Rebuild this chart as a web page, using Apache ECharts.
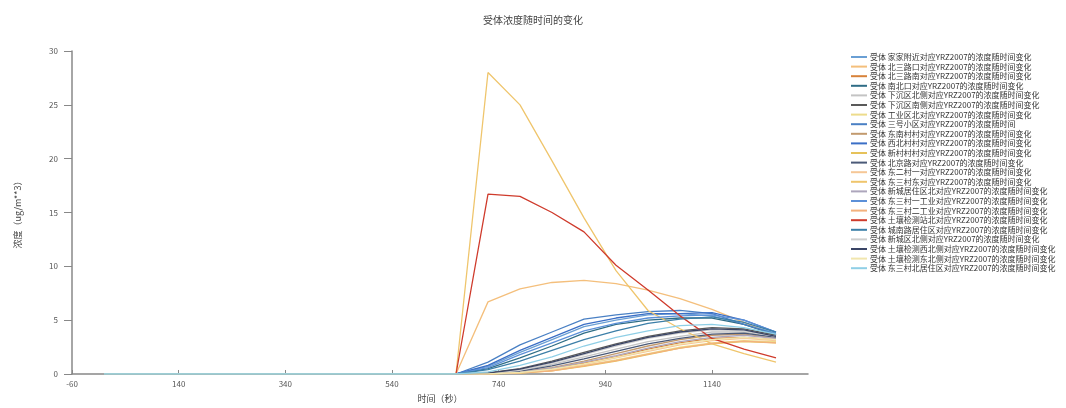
<!DOCTYPE html>
<html>
<head>
<meta charset="utf-8">
<script src="https://cdn.jsdelivr.net/npm/echarts@6/dist/echarts.min.js"></script>
<style>html,body{margin:0;padding:0;background:#fff}#c{width:1066px;height:408px}</style>
</head>
<body>
<div id="c"></div>
<script>
// time points (seconds)
var times = [0,60,120,180,240,300,360,420,480,540,600,660,720,780,840,900,960,1020,1080,1140,1200,1260];
var xTicks = [-60,140,340,540,740,940,1140];
var yTicks = [0,5,10,15,20,25,30];

var names = [
  "受体 家家附近对应YRZ2007的浓度随时间变化",
  "受体 北三路口对应YRZ2007的浓度随时间变化",
  "受体 北三路南对应YRZ2007的浓度随时间变化",
  "受体 南北口对应YRZ2007的浓度随时间变化",
  "受体 下沉区北侧对应YRZ2007的浓度随时间变化",
  "受体 下沉区南侧对应YRZ2007的浓度随时间变化",
  "受体 工业区北对应YRZ2007的浓度随时间变化",
  "受体 三号小区对应YRZ2007的浓度随时间",
  "受体 东南村村对应YRZ2007的浓度随时间变化",
  "受体 西北村村对应YRZ2007的浓度随时间变化",
  "受体 新村村村对应YRZ2007的浓度随时间变化",
  "受体 北京路对应YRZ2007的浓度随时间变化",
  "受体 东二村一对应YRZ2007的浓度随时间变化",
  "受体 东三村东对应YRZ2007的浓度随时间变化",
  "受体 新城居住区北对应YRZ2007的浓度随时间变化",
  "受体 东三村一工业对应YRZ2007的浓度随时间变化",
  "受体 东三村二工业对应YRZ2007的浓度随时间变化",
  "受体 土壤检测站北对应YRZ2007的浓度随时间变化",
  "受体 城南路居住区对应YRZ2007的浓度随时间变化",
  "受体 新城区北侧对应YRZ2007的浓度随时间变化",
  "受体 土壤检测西北侧对应YRZ2007的浓度随时间变化",
  "受体 土壤检测东北侧对应YRZ2007的浓度随时间变化",
  "受体 东三村北居住区对应YRZ2007的浓度随时间变化"
];

var colors = ["#6a9fd4","#f4bf7c","#d7823a","#2f6d86","#c4c4c4","#5a5a5a","#eddc8c","#4a80c4",
  "#c29a6e","#3b6fc6","#e6c25a","#4b5a78","#f6c796","#efc56c","#ada6bc","#5c90d8",
  "#f3b27e","#cf3b2c","#3c7fa8","#cfcfcf","#3a4566","#f1e6ae","#8fcfe6"];

// values at times above
var s01 = [0,0,0,0,0,0,0,0,0,0,0,0,0.7,2.0,3.2,4.4,5.0,5.5,5.6,5.4,4.6,3.8];
var s02 = [0,0,0,0,0,0,0,0,0,0,0,0,6.7,7.9,8.5,8.7,8.4,7.8,7.0,6.0,4.8,3.5];
var s03 = [0,0,0,0,0,0,0,0,0,0,0,0,0.02,0.15,0.5,1.0,1.6,2.3,2.9,3.3,3.4,3.2];
var s04 = [0,0,0,0,0,0,0,0,0,0,0,0,0.5,1.5,2.6,3.8,4.6,5.0,5.2,5.2,4.6,3.6];
var s05 = [0,0,0,0,0,0,0,0,0,0,0,0,0.05,0.3,0.9,1.6,2.3,3.0,3.5,3.9,3.9,3.4];
var s06 = [0,0,0,0,0,0,0,0,0,0,0,0,0.1,0.5,1.2,2.0,2.8,3.5,4.0,4.3,4.2,3.6];
var s07 = [0,0,0,0,0,0,0,0,0,0,0,0,0.01,0.1,0.35,0.8,1.3,1.9,2.5,2.9,3.1,3.0];
var s08 = [0,0,0,0,0,0,0,0,0,0,0,0,1.1,2.7,3.9,5.1,5.5,5.8,5.9,5.6,4.6,3.7];
var s09 = [0,0,0,0,0,0,0,0,0,0,0,0,0.03,0.2,0.6,1.2,1.9,2.6,3.2,3.6,3.7,3.3];
var s10 = [0,0,0,0,0,0,0,0,0,0,0,0,0.8,2.2,3.4,4.6,5.2,5.6,5.6,5.7,5.0,3.9];
var s11 = [0,0,0,0,0,0,0,0,0,0,0,0,0.01,0.08,0.3,0.7,1.2,1.8,2.4,2.8,3.0,2.9];
var s12 = [0,0,0,0,0,0,0,0,0,0,0,0,0.04,0.25,0.75,1.4,2.1,2.8,3.3,3.7,3.8,3.4];
var s13 = [0,0,0,0,0,0,0,0,0,0,0,0,0.02,0.12,0.4,0.9,1.5,2.1,2.7,3.1,3.3,3.1];
var s14 = [0,0,0,0,0,0,0,0,0,0,0,0,28.0,25.0,19.8,14.5,9.6,5.9,4.2,2.8,1.9,1.1];
var s15 = [0,0,0,0,0,0,0,0,0,0,0,0,0.03,0.18,0.55,1.1,1.7,2.4,3.0,3.4,3.6,3.3];
var s16 = [0,0,0,0,0,0,0,0,0,0,0,0,0.6,1.8,2.9,4.0,4.7,5.2,5.4,5.5,5.0,3.9];
var s17 = [0,0,0,0,0,0,0,0,0,0,0,0,0.01,0.1,0.3,0.75,1.25,1.85,2.4,2.85,3.05,2.9];
var s18 = [0,0,0,0,0,0,0,0,0,0,0,0,16.7,16.5,15.0,13.2,10.1,7.8,5.4,3.3,2.3,1.5];
var s19 = [0,0,0,0,0,0,0,0,0,0,0,0,0.4,1.2,2.2,3.2,4.0,4.7,5.1,5.3,4.8,3.9];
var s20 = [0,0,0,0,0,0,0,0,0,0,0,0,0.06,0.35,1.0,1.8,2.6,3.3,3.8,4.1,4.0,3.5];
var s21 = [0,0,0,0,0,0,0,0,0,0,0,0,0.08,0.45,1.1,1.9,2.7,3.4,3.9,4.2,4.1,3.5];
var s22 = [0,0,0,0,0,0,0,0,0,0,0,0,0.02,0.14,0.45,0.95,1.55,2.2,2.8,3.2,3.4,3.2];
var s23 = [0,0,0,0,0,0,0,0,0,0,0,0,0.2,0.8,1.6,2.6,3.4,4.0,4.5,4.6,4.3,3.7];

var values = [s01,s02,s03,s04,s05,s06,s07,s08,s09,s10,s11,s12,s13,s14,s15,s16,s17,s18,s19,s20,s21,s22,s23];

var FONT = "Noto Sans CJK SC";
var series = names.map(function(n, i){
  return {
    name: n, type: 'line', showSymbol: false, symbol: 'none',
    lineStyle: {width: 1.3, color: colors[i]},
    itemStyle: {color: colors[i]},
    data: times.map(function(t, k){ return [t, values[i][k]]; })
  };
});

var chart = echarts.init(document.getElementById('c'), null, {renderer: 'canvas'});
chart.setOption({
  animation: false,
  backgroundColor: '#fff',
  textStyle: {fontFamily: FONT},
  title: {
    text: '受体浓度随时间的变化', left: 'center', top: 10,
    textStyle: {fontSize: 10, fontWeight: 'normal', color: '#444', fontFamily: FONT}
  },
  legend: {
    orient: 'vertical', left: 846, top: 48, itemGap: 1.6,
    itemWidth: 16, itemHeight: 2, icon: 'rect',
    textStyle: {fontSize: 8, color: '#333', fontFamily: FONT, padding: [0,0,0,-2]},
    data: names.map(function(n){ return {name: n}; })
  },
  grid: {left: 72, right: 258, top: 51, bottom: 34, containLabel: false},
  xAxis: {
    type: 'value', min: -60, max: 1320,
    name: '时间（秒）', nameLocation: 'middle', nameGap: 20,
    nameTextStyle: {fontSize: 9, color: '#444', fontFamily: FONT},
    axisLine: {show: true, onZero: false, lineStyle: {color: '#888', width: 1.5}},
    axisTick: {show: true, inside: true, length: 4, customValues: xTicks, lineStyle: {color: '#888'}},
    axisLabel: {customValues: xTicks, fontSize: 8, color: '#555', margin: 6, showMinLabel: true, showMaxLabel: true,
      formatter: function(v){ return String(v); }},
    splitLine: {show: false}
  },
  yAxis: {
    type: 'value', min: 0, max: 30, interval: 5,
    name: '浓度（ug/m**3）', nameLocation: 'middle', nameGap: 50, nameRotate: 90,
    nameTextStyle: {fontSize: 9, color: '#444', fontFamily: FONT},
    axisLine: {show: true, onZero: false, lineStyle: {color: '#888', width: 1.5}},
    axisTick: {show: true, length: 8, lineStyle: {color: '#888'}},
    axisLabel: {fontSize: 8, color: '#555', margin: 14},
    splitLine: {show: false}
  },
  series: series
});
</script>
</body>
</html>
